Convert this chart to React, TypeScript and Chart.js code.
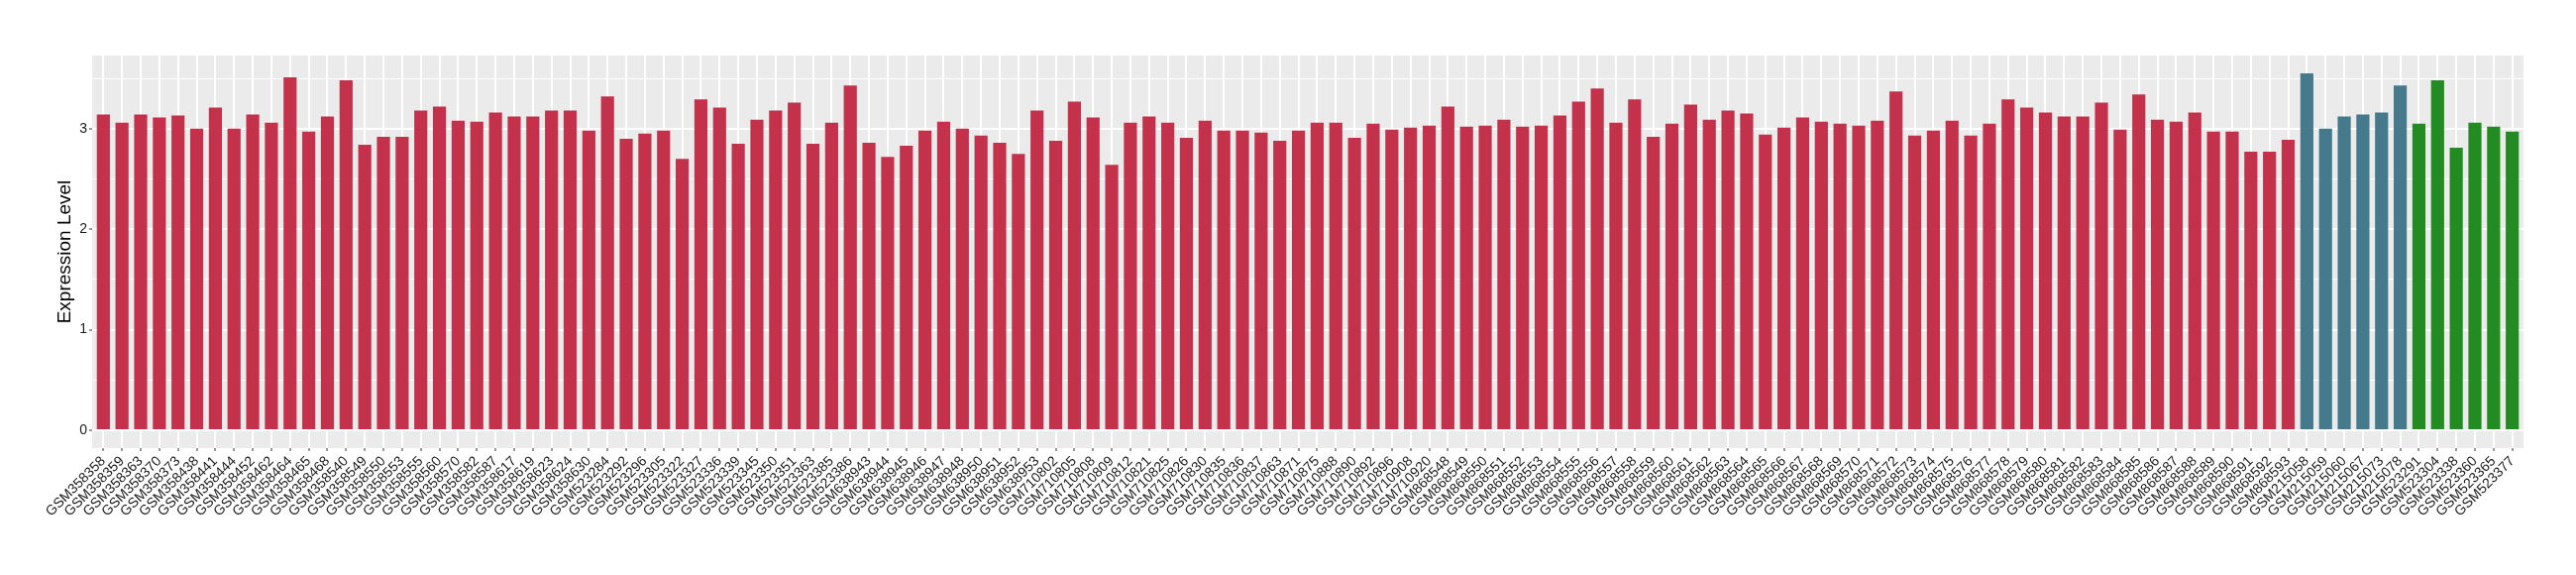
import { useEffect, useRef } from "react";
import { Chart, registerables } from "chart.js";

Chart.register(...registerables);

const redSamples = [
  "GSM358358", "GSM358359", "GSM358363", "GSM358370", "GSM358373", "GSM358438", "GSM358441", "GSM358444",
  "GSM358452", "GSM358462", "GSM358464", "GSM358465", "GSM358468", "GSM358540", "GSM358549", "GSM358550",
  "GSM358553", "GSM358555", "GSM358560", "GSM358570", "GSM358582", "GSM358587", "GSM358617", "GSM358619",
  "GSM358623", "GSM358624", "GSM358630",
  "GSM523284", "GSM523292", "GSM523296", "GSM523305", "GSM523322", "GSM523327", "GSM523336", "GSM523339",
  "GSM523345", "GSM523350", "GSM523351", "GSM523363", "GSM523385", "GSM523386",
  "GSM638943", "GSM638944", "GSM638945", "GSM638946", "GSM638947", "GSM638948", "GSM638950", "GSM638951",
  "GSM638952", "GSM638953",
  "GSM710802", "GSM710805", "GSM710808", "GSM710809", "GSM710812", "GSM710821", "GSM710825", "GSM710826",
  "GSM710830", "GSM710835", "GSM710836", "GSM710837", "GSM710863", "GSM710871", "GSM710875", "GSM710888",
  "GSM710890", "GSM710892", "GSM710896", "GSM710908", "GSM710920",
  "GSM868548", "GSM868549", "GSM868550", "GSM868551", "GSM868552", "GSM868553", "GSM868554", "GSM868555",
  "GSM868556", "GSM868557", "GSM868558", "GSM868559", "GSM868560", "GSM868561", "GSM868562", "GSM868563",
  "GSM868564", "GSM868565", "GSM868566", "GSM868567", "GSM868568", "GSM868569", "GSM868570", "GSM868571",
  "GSM868572", "GSM868573", "GSM868574", "GSM868575", "GSM868576", "GSM868577", "GSM868578", "GSM868579",
  "GSM868580", "GSM868581", "GSM868582", "GSM868583", "GSM868584", "GSM868585", "GSM868586", "GSM868587",
  "GSM868588", "GSM868589", "GSM868590", "GSM868591", "GSM868592", "GSM868593",
];
const blueSamples = ["GSM215058", "GSM215059", "GSM215060", "GSM215067", "GSM215073", "GSM215078"];
const greenSamples = ["GSM523291", "GSM523304", "GSM523338", "GSM523360", "GSM523365", "GSM523377"];

const redValues = [
  3.14, 3.06, 3.14, 3.11, 3.13, 3.00, 3.21, 3.00, 3.14, 3.06, 3.51, 2.97, 3.12, 3.48, 2.84, 2.92,
  2.92, 3.18, 3.22, 3.08, 3.07, 3.16, 3.12, 3.12, 3.18, 3.18, 2.98,
  3.32, 2.90, 2.95, 2.98, 2.70, 3.29, 3.21, 2.85, 3.09, 3.18, 3.26, 2.85, 3.06, 3.43,
  2.86, 2.72, 2.83, 2.98, 3.07, 3.00, 2.93, 2.86, 2.75, 3.18,
  2.88, 3.27, 3.11, 2.64, 3.06, 3.12, 3.06, 2.91, 3.08, 2.98, 2.98, 2.96, 2.88, 2.98, 3.06, 3.06,
  2.91, 3.05, 2.99, 3.01, 3.03,
  3.22, 3.02, 3.03, 3.09, 3.02, 3.03, 3.13, 3.27, 3.40, 3.06, 3.29, 2.92, 3.05, 3.24, 3.09, 3.18,
  3.15, 2.94, 3.01, 3.11, 3.07, 3.05, 3.03, 3.08, 3.37, 2.93, 2.98, 3.08, 2.93, 3.05, 3.29, 3.21,
  3.16, 3.12, 3.12, 3.26, 2.99, 3.34, 3.09, 3.07, 3.16, 2.97, 2.97, 2.77, 2.77, 2.89,
];
const blueValues = [3.55, 3.00, 3.12, 3.14, 3.16, 3.43];
const greenValues = [3.05, 3.48, 2.81, 3.06, 3.02, 2.97];

const yTickValues = [0, 0.5, 1, 1.5, 2, 2.5, 3, 3.5];
const yMajorTicks = [0, 1, 2, 3];

const RED = "#C3324A";
const BLUE = "#447A8C";
const GREEN = "#228B22";

const labels = [...redSamples, ...blueSamples, ...greenSamples];
const values = [...redValues, ...blueValues, ...greenValues];
const colors = [
  ...redValues.map(() => RED),
  ...blueValues.map(() => BLUE),
  ...greenValues.map(() => GREEN),
];

const FONT = "'Liberation Sans', Arial, Helvetica, sans-serif";
const TICK_COLOR = "#1A1A1A";

const panelBg = {
  id: "panelBg",
  beforeDraw(chart: any) {
    const { ctx, chartArea: a } = chart;
    ctx.save();
    ctx.fillStyle = "#EBEBEB";
    ctx.fillRect(a.left, a.top, a.right - a.left, a.bottom - a.top);
    ctx.restore();
  },
};

export default function App() {
  const ref = useRef<HTMLCanvasElement | null>(null);

  useEffect(() => {
    document.body.style.margin = "0";
    const canvas = ref.current;
    if (!canvas) return;
    const maxV = Math.max(...values);
    const chart = new Chart(canvas, {
      type: "bar",
      data: {
        datasets: [
          {
            data: values.map((v, i) => ({ x: i, y: v })),
            backgroundColor: colors,
            borderWidth: 0,
            barPercentage: 0.7,
            categoryPercentage: 1,
          },
        ],
      },
      plugins: [panelBg],
      options: {
        animation: false,
        responsive: false,
        maintainAspectRatio: false,
        layout: { padding: { left: 54, right: 53, top: 56, bottom: 0 } },
        plugins: { legend: { display: false }, tooltip: { enabled: false } },
        scales: {
          x: {
            type: "linear",
            offset: false,
            min: -0.6,
            max: labels.length - 1 + 0.6,
            afterBuildTicks: (scale: any) => {
              scale.ticks = labels.map((_, i) => ({ value: i }));
            },
            afterFit: (scale: any) => {
              scale.height = 128;
              scale.paddingLeft = 0;
              scale.paddingRight = 0;
            },
            border: { display: false },
            grid: {
              offset: false,
              color: "#FFFFFF",
              lineWidth: 2,
              drawTicks: true,
              tickLength: 3,
              tickColor: "#333333",
              tickWidth: 1,
            },
            ticks: {
              autoSkip: false,
              minRotation: 45,
              maxRotation: 45,
              padding: 2,
              color: TICK_COLOR,
              font: { family: FONT, size: 14 },
              callback: (v: any) => labels[v as number] ?? "",
            },
          },
          y: {
            type: "linear",
            min: -0.05 * maxV,
            max: maxV * 1.05,
            afterBuildTicks: (scale: any) => {
              scale.ticks = yTickValues.map((v) => ({ value: v }));
            },
            afterFit: (scale: any) => {
              scale.width = 39;
            },
            border: { display: false },
            grid: {
              color: "#FFFFFF",
              lineWidth: (ctx: any) => (yMajorTicks.includes(ctx.tick?.value) ? 2 : 1),
              drawTicks: true,
              tickLength: 3,
              tickColor: (ctx: any) =>
                yMajorTicks.includes(ctx.tick?.value) ? "#333333" : "rgba(0,0,0,0)",
              tickWidth: 1,
            },
            ticks: {
              padding: 2,
              color: TICK_COLOR,
              font: { family: FONT, size: 14 },
              callback: (v: any) => (yMajorTicks.includes(v as number) ? String(v) : ""),
            },
            title: {
              display: true,
              text: "Expression Level",
              color: "#000000",
              padding: 0,
              font: { family: FONT, size: 19 },
            },
          },
        },
      },
    });
    return () => chart.destroy();
  }, []);

  return (
    <div style={{ width: 2600, height: 580 }}>
      <canvas ref={ref} width={2600} height={580} style={{ display: "block", width: 2600, height: 580 }} />
    </div>
  );
}
